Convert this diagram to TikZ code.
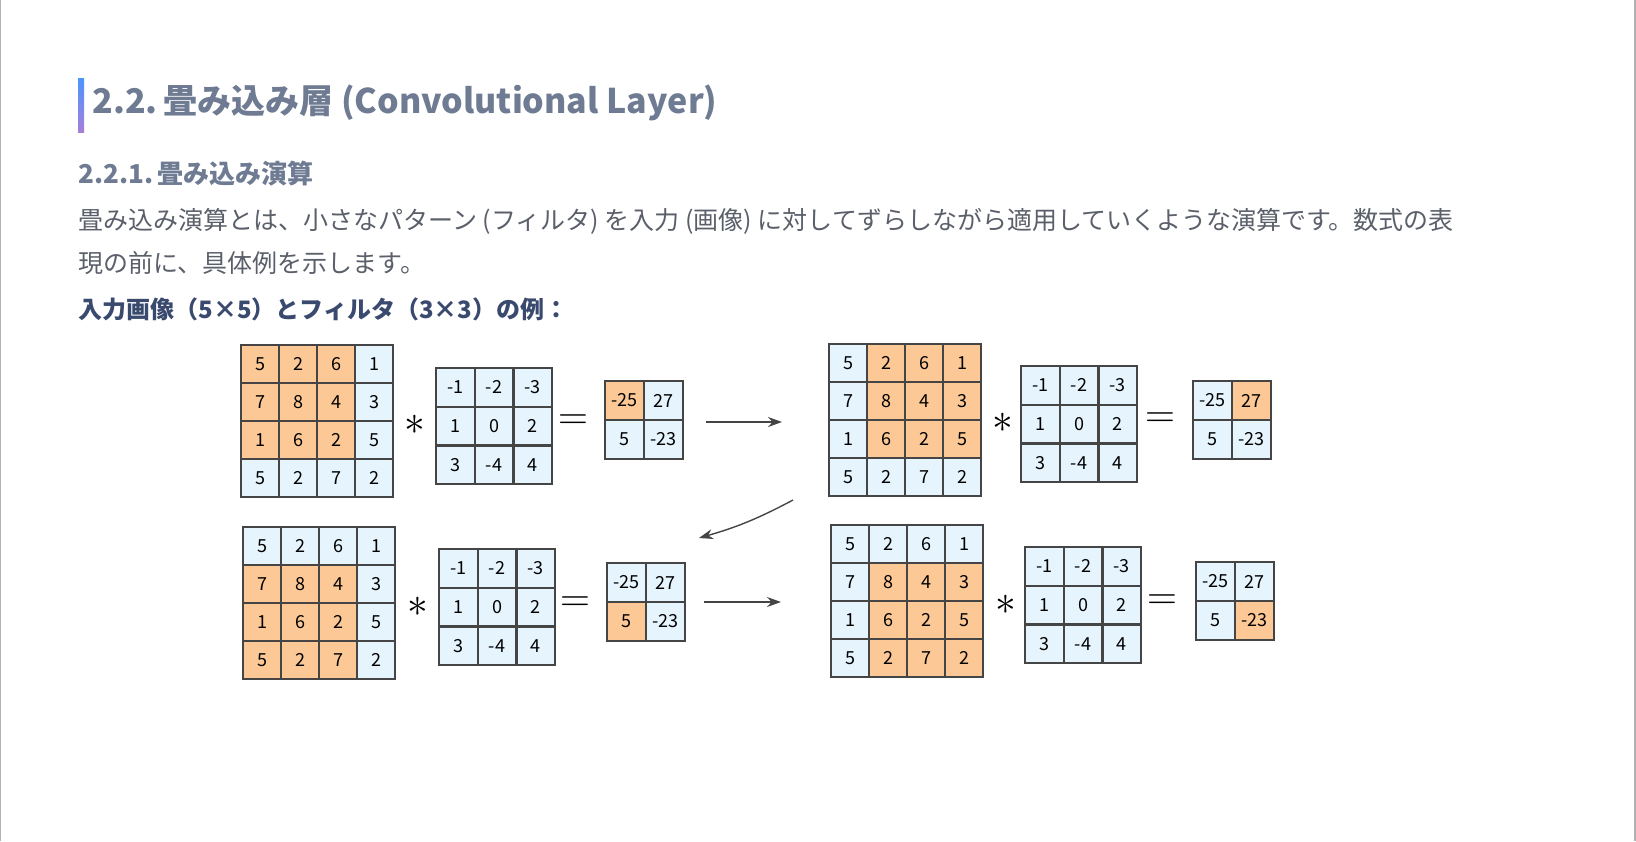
\documentclass[tikz,border=0pt]{standalone}
\usepackage{fontspec}
\setmainfont{Noto Sans CJK JP}
\usetikzlibrary{positioning,arrows.meta}
\definecolor{hotcell}{HTML}{FCC896}
\definecolor{coolcell}{HTML}{E6F4FD}
\definecolor{headcol}{HTML}{6E7B92}
\definecolor{bodycol}{HTML}{5A5F6A}
\definecolor{boldcol}{HTML}{3A4A6E}
\definecolor{gridline}{HTML}{454545}
\tikzset{
  cell/.style={draw=gridline,line width=1.1pt,minimum size=#1,inner sep=0pt,font=\fontsize{9}{9}\selectfont},
  o/.style={fill=hotcell},
  b/.style={fill=coolcell},
  op/.style={inner sep=0pt,font=\fontsize{20}{20}\selectfont},
  flow/.style={-{Stealth[length=7pt,width=5pt]},draw=gridline,line width=0.7pt},
  txt/.style={anchor=base west,inner sep=0pt}
}
% grid: prefix, x, y (top left), cell size, rows
\newcommand{\convgrid}[5]{%
  \foreach \row [count=\r] in {#5}{
    \foreach \v/\c [count=\k] in \row{
      \node[cell=#4*0.5pt,\c] (#1-\r-\k) at ({#2+(\k-0.5)*#4},{#3+(\r-0.5)*#4}) {\v};
    }
  }}
\begin{document}
\begin{tikzpicture}[x=0.5pt,y=-0.5pt]
\useasboundingbox (0,0) rectangle (1636,841);
\draw[gray!60,line width=0.8pt] (0.5,0) -- (0.5,841) (1635,0) -- (1635,841);

% headings
\shade[top color=blue!60!cyan!70,bottom color=blue!40!violet!50] (78,78) rectangle (84,132);
\node[txt,font=\fontsize{17}{17}\bfseries\selectfont,text=headcol] (h1) at (92,113) {2.2.\,畳み込み層 (Convolutional Layer)};
\node[txt,font=\fontsize{13}{13}\bfseries\selectfont,text=headcol] (h2) at (78,183) {2.2.1.\,畳み込み演算};
\node[txt,font=\fontsize{12.5}{12.5}\selectfont,text=bodycol] (p1) at (78,229) {畳み込み演算とは、小さなパターン (フィルタ) を入力 (画像) に対してずらしながら適用していくような演算です。数式の表};
\node[txt,font=\fontsize{12.5}{12.5}\selectfont,text=bodycol] (p2) at (78,272) {現の前に、具体例を示します。};
\node[txt,font=\fontsize{12}{12}\bfseries\selectfont,text=boldcol] (p3) at (78,318) {入力画像（5×5）とフィルタ（3×3）の例：};

% step 1
\convgrid{inA}{241}{345}{38}{{5/o,2/o,6/o,1/b},{7/o,8/o,4/o,3/b},{1/o,6/o,2/o,5/b},{5/b,2/b,7/b,2/b}}
\node[op] (stA) at (415,425) {$\ast$};
\convgrid{fA}{436}{368}{38.7}{{-1/b,-2/b,-3/b},{1/b,0/b,2/b},{3/b,-4/b,4/b}}
\node[op] (eqA) at (573,422) {$=$};
\convgrid{outA}{605}{381}{39}{{-25/o,27/b},{5/b,-23/b}}

% step 2
\convgrid{inB}{829}{344}{38}{{5/b,2/o,6/o,1/o},{7/b,8/o,4/o,3/o},{1/b,6/o,2/o,5/o},{5/b,2/b,7/b,2/b}}
\node[op] (stB) at (1003,423) {$\ast$};
\convgrid{fB}{1021}{366}{38.7}{{-1/b,-2/b,-3/b},{1/b,0/b,2/b},{3/b,-4/b,4/b}}
\node[op] (eqB) at (1160,420) {$=$};
\convgrid{outB}{1193}{381}{39}{{-25/b,27/o},{5/b,-23/b}}

% step 3
\convgrid{inC}{243}{527}{38}{{5/b,2/b,6/b,1/b},{7/o,8/o,4/o,3/b},{1/o,6/o,2/o,5/b},{5/o,2/o,7/o,2/b}}
\node[op] (stC) at (418,607) {$\ast$};
\convgrid{fC}{439}{549}{38.7}{{-1/b,-2/b,-3/b},{1/b,0/b,2/b},{3/b,-4/b,4/b}}
\node[op] (eqC) at (575,604) {$=$};
\convgrid{outC}{607}{563}{39}{{-25/b,27/b},{5/o,-23/b}}

% step 4
\convgrid{inD}{831}{525}{38}{{5/b,2/b,6/b,1/b},{7/b,8/o,4/o,3/o},{1/b,6/o,2/o,5/o},{5/b,2/o,7/o,2/o}}
\node[op] (stD) at (1006,605) {$\ast$};
\convgrid{fD}{1025}{547}{38.7}{{-1/b,-2/b,-3/b},{1/b,0/b,2/b},{3/b,-4/b,4/b}}
\node[op] (eqD) at (1162,602) {$=$};
\convgrid{outD}{1196}{562}{39}{{-25/b,27/b},{5/b,-23/o}}

% arrows
\coordinate (a1s) at (706,422);
\coordinate (a1e) at (782,422);
\coordinate (a2s) at (793,500);
\coordinate (a2e) at (699,538);
\coordinate (a3s) at (704,602);
\coordinate (a3e) at (781,602);
\draw[flow] (a1s) -- (a1e);
\draw[flow] (a2s) to[bend left=6] (a2e);
\draw[flow] (a3s) -- (a3e);
\end{tikzpicture}
\end{document}
